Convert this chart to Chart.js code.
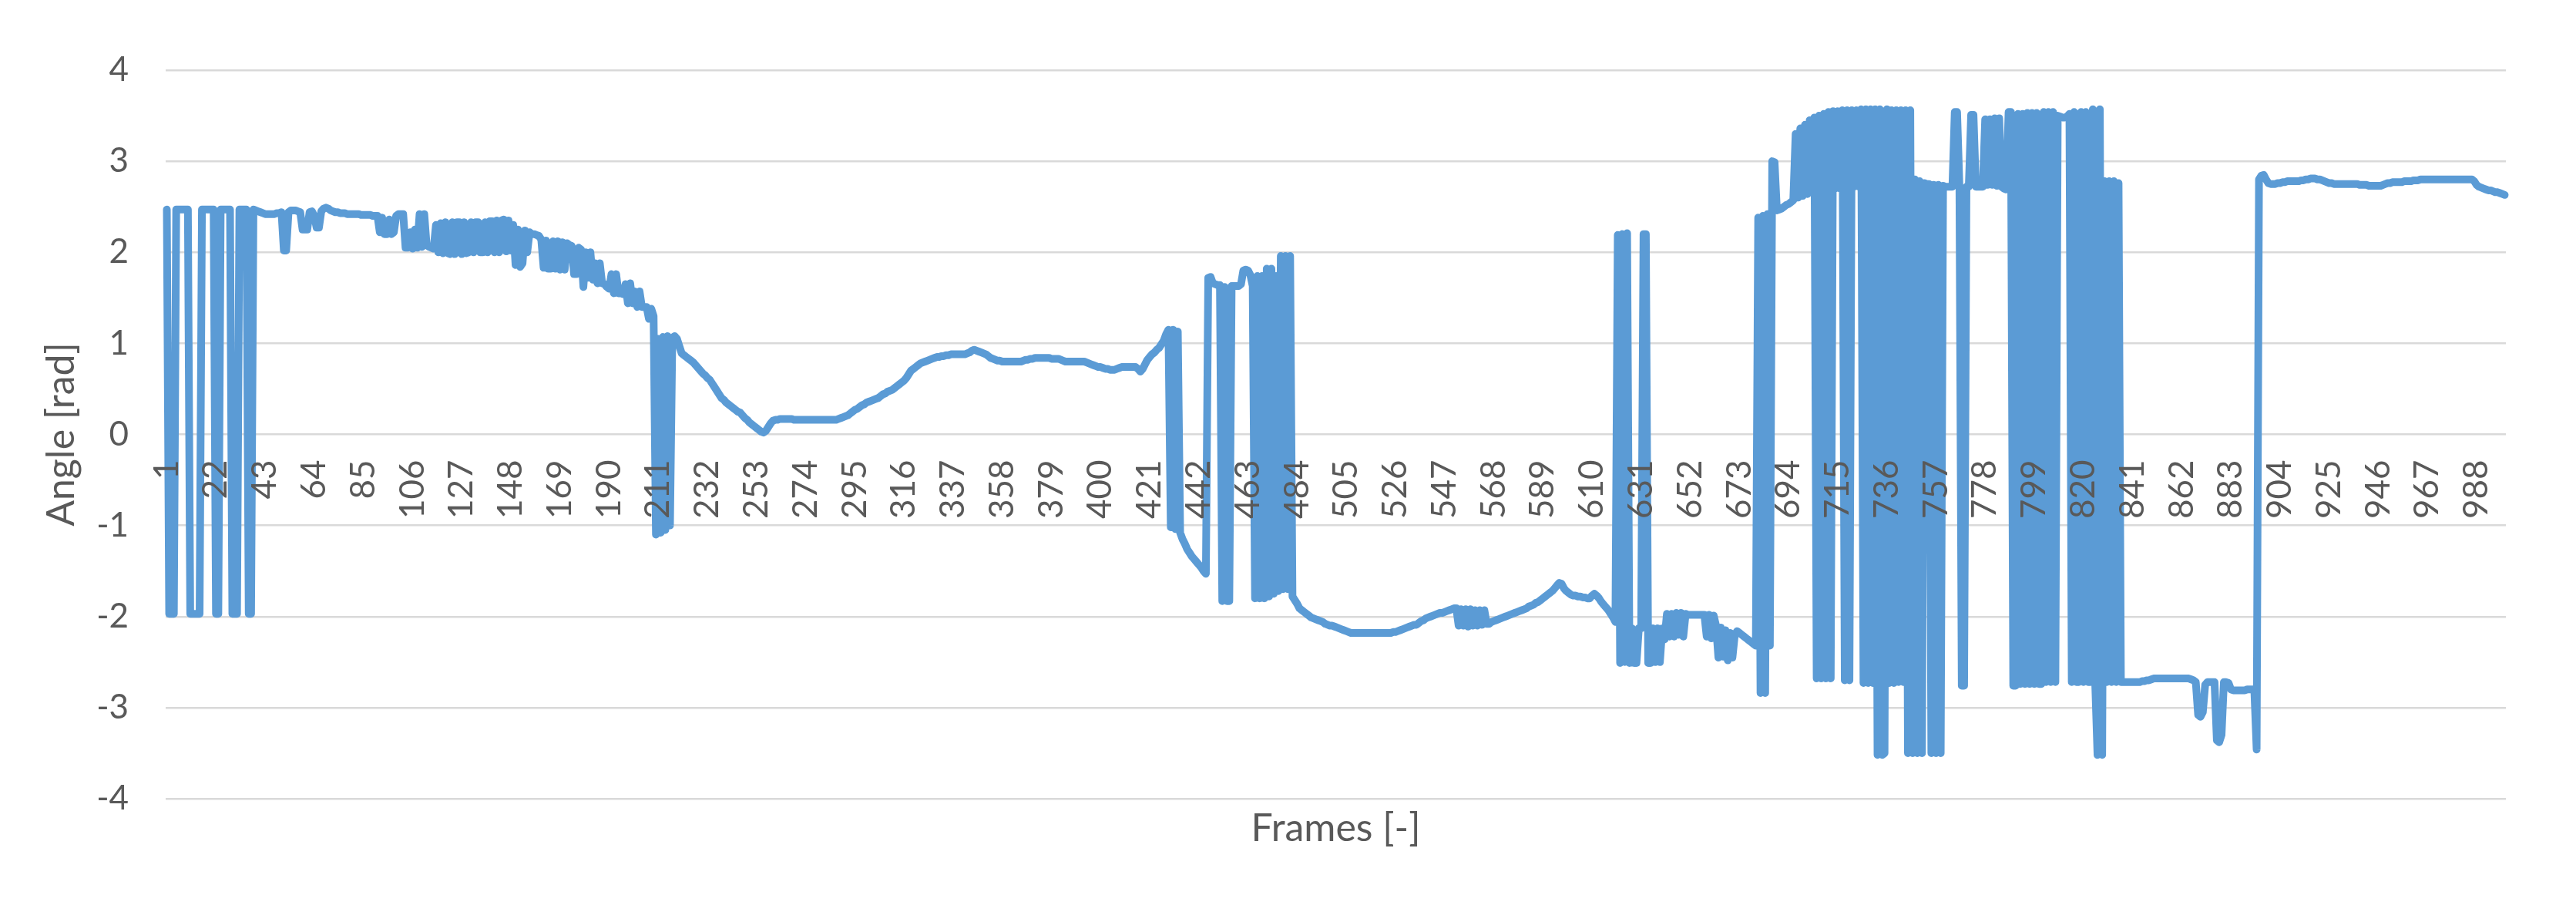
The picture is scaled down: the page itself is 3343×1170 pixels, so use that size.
<!DOCTYPE html>
<html>
<head>
<meta charset="utf-8">
<script src="https://cdn.jsdelivr.net/npm/chart.js@4.4.1/dist/chart.umd.min.js"></script>
<style>
  html, body { margin: 0; padding: 0; background: #ffffff; }
  #wrap { width: 3343px; height: 1170px; position: relative; }
</style>
</head>
<body>
<div id="wrap"><canvas id="chart"></canvas></div>
<script>
// ---- Data: angle per frame ----
const angle001to100 = [
  2.47,-1.97,-1.97,-1.97,2.47,2.47,2.47,2.47,2.47,2.47,
  -1.97,-1.97,-1.97,-1.97,-1.97,2.47,2.47,2.47,2.47,2.47,
  2.47,-1.97,-1.97,2.47,2.47,2.47,2.47,2.47,-1.97,-1.97,
  -1.97,2.47,2.47,2.47,2.47,-1.97,-1.97,2.47,2.46,2.45,
  2.44,2.43,2.42,2.42,2.42,2.42,2.42,2.43,2.43,2.44,
  2.02,2.02,2.44,2.46,2.46,2.46,2.45,2.44,2.25,2.25,
  2.25,2.44,2.45,2.40,2.27,2.27,2.45,2.48,2.49,2.48,
  2.46,2.45,2.44,2.44,2.43,2.43,2.43,2.42,2.42,2.42,
  2.42,2.42,2.42,2.41,2.41,2.41,2.41,2.41,2.40,2.40,
  2.40,2.22,2.38,2.20,2.20,2.36,2.20,2.22,2.40,2.42
];
const angle101to200 = [
  2.42,2.42,2.05,2.05,2.22,2.04,2.25,2.05,2.42,2.06,
  2.42,2.08,2.06,2.05,2.04,2.30,2.00,2.32,1.99,2.33,
  1.99,1.98,2.33,1.98,2.33,2.33,1.98,2.33,1.99,2.00,
  2.33,2.00,2.33,2.33,2.00,2.00,2.33,2.00,2.34,2.34,
  2.00,2.35,2.00,2.35,2.36,2.01,2.35,2.02,2.30,1.86,
  2.25,1.84,1.88,2.24,2.00,2.22,2.20,2.20,2.19,2.18,
  2.14,1.83,2.13,1.82,1.82,2.12,1.82,2.12,1.81,2.11,
  1.81,2.10,2.08,2.07,1.76,1.76,2.05,2.03,1.62,2.00,
  1.72,2.00,1.70,1.88,1.66,1.88,1.66,1.65,1.62,1.60,
  1.76,1.55,1.76,1.55,1.55,1.54,1.65,1.44,1.66,1.44
];
const angle201to300 = [
  1.57,1.40,1.57,1.40,1.40,1.40,1.27,1.38,1.30,-1.10,
  1.05,-1.08,1.07,-1.05,1.08,-1.00,1.06,1.08,1.05,0.97,
  0.89,0.87,0.85,0.83,0.81,0.79,0.76,0.73,0.70,0.67,
  0.65,0.62,0.60,0.56,0.52,0.48,0.44,0.40,0.38,0.35,
  0.33,0.31,0.29,0.27,0.25,0.24,0.21,0.18,0.16,0.13,
  0.11,0.09,0.07,0.05,0.03,0.02,0.04,0.08,0.12,0.15,
  0.16,0.16,0.17,0.17,0.17,0.17,0.17,0.17,0.16,0.16,
  0.16,0.16,0.16,0.16,0.16,0.16,0.16,0.16,0.16,0.16,
  0.16,0.16,0.16,0.16,0.16,0.16,0.16,0.17,0.18,0.19,
  0.20,0.21,0.23,0.25,0.27,0.28,0.30,0.32,0.33,0.35
];
const angle301to400 = [
  0.36,0.37,0.38,0.39,0.40,0.42,0.44,0.45,0.47,0.48,
  0.49,0.51,0.53,0.55,0.57,0.59,0.62,0.66,0.70,0.72,
  0.74,0.76,0.78,0.79,0.80,0.81,0.82,0.83,0.84,0.85,
  0.85,0.86,0.86,0.87,0.87,0.88,0.88,0.88,0.88,0.88,
  0.88,0.88,0.89,0.90,0.92,0.93,0.92,0.91,0.90,0.89,
  0.88,0.86,0.84,0.83,0.82,0.81,0.81,0.80,0.80,0.80,
  0.80,0.80,0.80,0.80,0.80,0.80,0.81,0.82,0.82,0.83,
  0.83,0.84,0.84,0.84,0.84,0.84,0.84,0.84,0.83,0.83,
  0.83,0.83,0.82,0.81,0.80,0.80,0.80,0.80,0.80,0.80,
  0.80,0.80,0.80,0.79,0.78,0.77,0.76,0.75,0.74,0.74
];
const angle401to500 = [
  0.73,0.72,0.72,0.71,0.71,0.71,0.72,0.73,0.74,0.74,
  0.74,0.74,0.74,0.74,0.74,0.72,0.69,0.72,0.77,0.82,
  0.85,0.88,0.90,0.93,0.95,0.99,1.03,1.10,1.15,-1.02,
  1.15,-1.04,1.13,-1.08,-1.15,-1.20,-1.26,-1.30,-1.34,-1.37,
  -1.40,-1.43,-1.46,-1.50,-1.53,1.72,1.73,1.66,1.65,1.64,
  1.64,-1.83,1.62,-1.83,-1.83,1.63,1.63,1.63,1.63,1.65,
  1.80,1.81,1.80,1.75,1.63,-1.80,1.74,-1.80,1.74,-1.80,
  1.82,-1.78,1.82,-1.75,1.74,-1.72,1.96,-1.70,1.96,-1.70,
  1.96,-1.78,-1.82,-1.86,-1.91,-1.93,-1.95,-1.97,-1.99,-2.01,
  -2.02,-2.03,-2.04,-2.05,-2.06,-2.08,-2.09,-2.10,-2.10,-2.11
];
const angle501to600 = [
  -2.12,-2.13,-2.14,-2.15,-2.16,-2.17,-2.18,-2.18,-2.18,-2.18,
  -2.18,-2.18,-2.18,-2.18,-2.18,-2.18,-2.18,-2.18,-2.18,-2.18,
  -2.18,-2.18,-2.18,-2.18,-2.17,-2.17,-2.16,-2.15,-2.14,-2.13,
  -2.12,-2.11,-2.10,-2.09,-2.09,-2.07,-2.05,-2.04,-2.02,-2.01,
  -2.00,-1.99,-1.98,-1.97,-1.96,-1.96,-1.95,-1.94,-1.93,-1.92,
  -1.91,-1.91,-2.10,-1.92,-2.10,-1.92,-2.11,-1.92,-2.10,-1.93,
  -2.10,-1.93,-2.09,-1.93,-2.08,-2.08,-2.06,-2.05,-2.04,-2.03,
  -2.02,-2.01,-2.00,-1.99,-1.98,-1.97,-1.96,-1.95,-1.94,-1.93,
  -1.92,-1.91,-1.89,-1.88,-1.87,-1.85,-1.84,-1.82,-1.80,-1.78,
  -1.76,-1.74,-1.72,-1.69,-1.66,-1.63,-1.64,-1.69,-1.72,-1.74
];
const angle601to700 = [
  -1.76,-1.77,-1.77,-1.78,-1.78,-1.79,-1.79,-1.80,-1.80,-1.77,
  -1.75,-1.77,-1.80,-1.84,-1.87,-1.90,-1.93,-1.97,-2.01,-2.06,
  2.19,-2.51,2.20,-2.50,2.21,-2.51,-2.13,-2.51,-2.51,-2.13,
  -2.13,2.20,2.20,-2.51,-2.51,-2.13,-2.50,-2.13,-2.50,-2.13,
  -2.25,-1.97,-2.22,-1.97,-2.22,-1.96,-2.20,-1.96,-2.22,-1.97,
  -1.98,-1.98,-1.98,-1.98,-1.98,-1.98,-1.98,-1.98,-2.22,-1.98,
  -2.24,-1.99,-2.10,-2.45,-2.12,-2.44,-2.15,-2.48,-2.18,-2.45,
  -2.20,-2.16,-2.18,-2.20,-2.22,-2.24,-2.26,-2.28,-2.30,-2.32,
  2.38,-2.84,2.40,-2.84,2.42,-2.32,3.00,2.99,2.46,2.47,
  2.48,2.50,2.52,2.53,2.55,2.57,3.30,2.60,3.36,2.62
];
const angle701to800 = [
  3.40,2.64,3.45,2.70,3.48,-2.68,3.50,-2.68,3.52,-2.68,
  3.54,-2.68,3.55,2.70,3.55,2.70,3.56,-2.70,3.56,-2.70,
  3.56,2.72,3.56,2.72,3.57,-2.73,3.57,-2.73,3.57,-2.73,
  3.57,-3.52,3.57,-3.52,-3.50,3.57,-2.73,3.56,-2.73,3.56,
  -2.72,3.56,-2.72,3.56,-3.50,3.56,-3.50,2.80,-3.50,2.78,
  -3.50,2.76,2.75,2.75,-3.50,2.74,-3.50,2.74,-3.50,2.73,
  2.72,2.72,2.72,2.72,3.54,3.54,2.72,-2.76,-2.76,2.72,
  2.72,3.51,3.51,2.72,2.72,2.72,2.72,3.46,2.74,3.46,
  2.74,3.47,2.73,3.47,2.72,2.70,2.69,3.54,3.54,-2.76,
  -2.76,3.52,-2.74,3.52,-2.74,3.53,-2.74,3.53,-2.74,3.53
];
const angle801to900 = [
  -2.74,-2.74,3.54,-2.72,3.54,-2.72,3.54,-2.72,3.50,3.49,
  3.48,3.48,3.49,3.52,-2.72,3.54,-2.72,-2.72,3.54,-2.72,
  3.54,-2.72,-2.72,3.57,-2.72,-3.52,3.57,-3.52,2.78,-2.72,
  2.78,-2.72,2.78,-2.72,2.76,-2.72,-2.72,-2.72,-2.72,-2.72,
  -2.72,-2.72,-2.72,-2.72,-2.71,-2.71,-2.70,-2.70,-2.69,-2.68,
  -2.68,-2.68,-2.68,-2.68,-2.68,-2.68,-2.68,-2.68,-2.68,-2.68,
  -2.68,-2.68,-2.68,-2.68,-2.68,-2.69,-2.70,-2.72,-3.08,-3.10,
  -3.05,-2.75,-2.72,-2.72,-2.72,-2.72,-3.36,-3.38,-3.30,-2.72,
  -2.72,-2.73,-2.80,-2.81,-2.81,-2.81,-2.81,-2.81,-2.81,-2.80,
  -2.80,-2.80,-2.80,-3.46,2.80,2.84,2.85,2.80,2.76,2.75
];
const angle901to1000 = [
  2.75,2.75,2.76,2.76,2.77,2.77,2.78,2.78,2.78,2.78,
  2.78,2.78,2.79,2.79,2.80,2.80,2.81,2.81,2.81,2.80,
  2.80,2.79,2.78,2.77,2.76,2.76,2.75,2.75,2.75,2.75,
  2.75,2.75,2.75,2.75,2.75,2.75,2.75,2.74,2.74,2.74,
  2.74,2.73,2.73,2.73,2.73,2.73,2.73,2.74,2.75,2.76,
  2.76,2.77,2.77,2.77,2.77,2.77,2.78,2.78,2.78,2.78,
  2.79,2.79,2.79,2.80,2.80,2.80,2.80,2.80,2.80,2.80,
  2.80,2.80,2.80,2.80,2.80,2.80,2.80,2.80,2.80,2.80,
  2.80,2.80,2.80,2.80,2.80,2.80,2.78,2.74,2.72,2.71,
  2.70,2.69,2.68,2.68,2.67,2.66,2.66,2.65,2.64,2.63
];

const angleValues = [].concat(
  angle001to100, angle101to200, angle201to300, angle301to400, angle401to500,
  angle501to600, angle601to700, angle701to800, angle801to900, angle901to1000
);
// categories: frame numbers 1..N
const frameLabels = angleValues.map((_, i) => String(i + 1));
const labelEvery = 21;          // a tick label every 21 frames: 1, 22, 43, ...
const yMin = -4, yMax = 4, yStep = 1;
const xTitle = 'Frames [-]';
const yTitle = 'Angle [rad]';

// ---- Styling ----
const FONT = 'Lato, "Open Sans", "Liberation Sans", sans-serif';
const TEXT = '#595959';
const GRID = '#D9D9D9';
const LINE = '#5B9BD5';
const W = 3343, H = 1170;
const PLOT_LEFT = 215, PLOT_RIGHT = 3252, PLOT_TOP = 91, PLOT_BOTTOM = 1036;
const TICK_SIZE = 44;
const TITLE_SIZE = 50;
const X_TITLE_CENTER = 1075;
const xBoxBottom = X_TITLE_CENTER + TITLE_SIZE * 1.2 / 2;

const ctx = document.getElementById('chart').getContext('2d');
new Chart(ctx, {
  type: 'line',
  data: {
    labels: frameLabels,
    datasets: [{
      label: yTitle,
      data: angleValues,
      borderColor: LINE,
      backgroundColor: LINE,
      borderWidth: 10,
      pointRadius: 0,
      pointHoverRadius: 0,
      tension: 0,
      fill: false,
      borderJoinStyle: 'round',
      borderCapStyle: 'round'
    }]
  },
  options: {
    responsive: true,
    maintainAspectRatio: false,
    animation: false,
    devicePixelRatio: 1,
    events: [],
    layout: {
      padding: { left: 0, right: W - PLOT_RIGHT, top: PLOT_TOP, bottom: H - xBoxBottom }
    },
    plugins: {
      legend: { display: false },
      tooltip: { enabled: false },
      title: { display: false }
    },
    scales: {
      x: {
        type: 'category',
        position: { y: 0 },
        offset: true,
        grid: { display: false, drawTicks: false },
        border: { display: false },
        ticks: {
          z: 1,
          autoSkip: false,
          minRotation: 90,
          maxRotation: 90,
          padding: 33,
          color: TEXT,
          font: { family: FONT, size: TICK_SIZE },
          callback: function (value, index) {
            return index % labelEvery === 0 ? frameLabels[index] : null;
          }
        }
      },
      x2: {
        type: 'category',
        position: 'bottom',
        offset: true,
        grid: { display: false, drawTicks: false },
        border: { display: false },
        ticks: { display: false },
        title: {
          display: true,
          text: xTitle,
          color: TEXT,
          font: { family: FONT, size: TITLE_SIZE },
          padding: { top: 0, bottom: 0 }
        },
        afterFit: function (scale) { scale.height = xBoxBottom - PLOT_BOTTOM; }
      },
      y: {
        position: 'left',
        min: yMin,
        max: yMax,
        grid: { color: GRID, lineWidth: 2.5, drawTicks: false },
        border: { display: false },
        ticks: {
          stepSize: yStep,
          padding: 48,
          color: TEXT,
          font: { family: FONT, size: TICK_SIZE }
        },
        title: {
          display: true,
          text: yTitle,
          color: TEXT,
          font: { family: FONT, size: TITLE_SIZE },
          padding: { top: 50, bottom: 0 }
        },
        afterFit: function (scale) { scale.width = PLOT_LEFT; }
      }
    }
  }
});
</script>
</body>
</html>
